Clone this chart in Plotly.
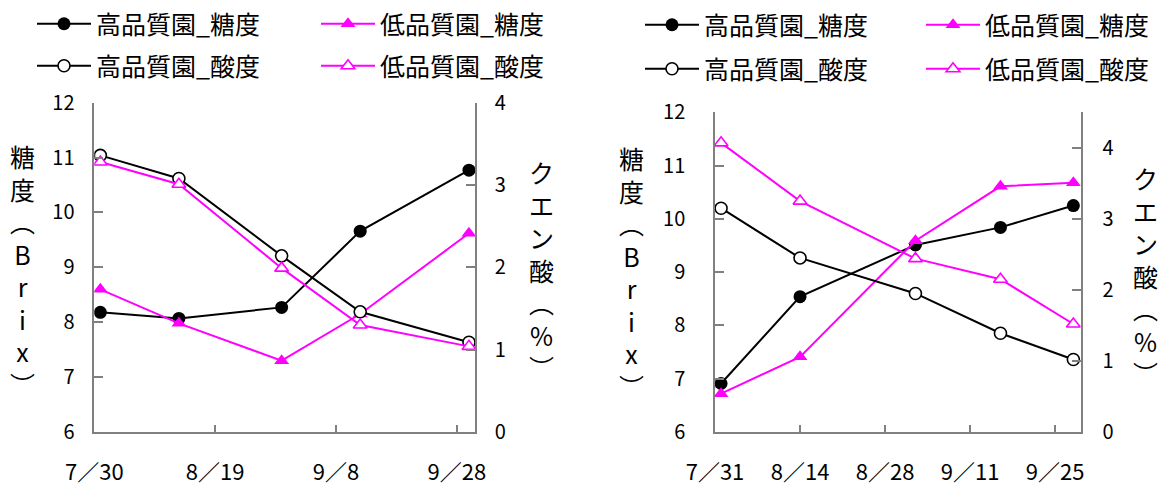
import plotly.graph_objects as go

# ---------------- data ----------------
left_dates = ["2023-07-31", "2023-08-13", "2023-08-30", "2023-09-12", "2023-09-30"]
left_high_sugar = [8.18, 8.07, 8.27, 9.66, 10.77]
left_low_sugar = [8.60, 7.98, 7.30, 8.15, 9.62]
left_high_acid = [3.36, 3.08, 2.14, 1.46, 1.09]
left_low_acid = [3.28, 3.01, 1.99, 1.30, 1.04]
left_tick_dates = ["2023-07-30", "2023-08-19", "2023-09-08", "2023-09-28"]
left_tick_labels = ["7／30", "8／19", "9／8", "9／28"]

right_dates = ["2023-08-01", "2023-08-14", "2023-09-02", "2023-09-16", "2023-09-28"]
right_high_sugar = [6.91, 8.54, 9.51, 9.84, 10.25]
right_low_sugar = [6.72, 7.41, 9.59, 10.61, 10.68]
right_high_acid = [3.15, 2.45, 1.95, 1.39, 1.02]
right_low_acid = [4.07, 3.25, 2.44, 2.15, 1.52]
right_tick_dates = ["2023-07-31", "2023-08-14", "2023-08-28", "2023-09-11", "2023-09-25"]
right_tick_labels = ["7／31", "8／14", "8／28", "9／11", "9／25"]

series_names = ["高品質園_糖度", "低品質園_糖度", "高品質園_酸度", "低品質園_酸度"]
sugar_ticks = [6, 7, 8, 9, 10, 11, 12]
acid_ticks = [0, 1, 2, 3, 4]

# ---------------- style ----------------
W, H = 1164, 486
FONT = "Noto Sans CJK JP"
BLACK = "#000000"
MAG = "#FF00FF"
AX = "#808080"

fig = go.Figure()

def add_chart(dates, hs, ls, ha, la, xa, ys, ya, legs):
    specs = [
        (hs, ys, BLACK, dict(symbol="circle", size=13, color=BLACK, line=dict(width=0))),
        (ls, ys, MAG, dict(symbol="triangle-up", size=13, color=MAG, line=dict(width=0))),
        (ha, ya, BLACK, dict(symbol="circle", size=12, color="white", line=dict(width=1.6, color=BLACK))),
        (la, ya, MAG, dict(symbol="triangle-up", size=12, color="white", line=dict(width=1.6, color=MAG))),
    ]
    for (vals, yax, col, mk), name, lg in zip(specs, series_names, legs):
        fig.add_trace(go.Scatter(
            x=dates, y=vals, name=name, mode="lines+markers",
            line=dict(color=col, width=2), marker=mk,
            xaxis=xa, yaxis=yax, legend=lg, showlegend=True,
        ))

add_chart(left_dates, left_high_sugar, left_low_sugar, left_high_acid, left_low_acid,
          "x", "y", "y2", ["legend", "legend2", "legend3", "legend4"])
add_chart(right_dates, right_high_sugar, right_low_sugar, right_high_acid, right_low_acid,
          "x2", "y3", "y4", ["legend5", "legend6", "legend7", "legend8"])

def px_x(v):
    return v / W

def px_y(v):
    return 1 - v / H

base_axis = dict(showline=True, linecolor=AX, linewidth=1.5, ticks="inside",
                 tickcolor=AX, tickwidth=1.5, showgrid=False, zeroline=False,
                 tickfont=dict(family=FONT, size=20, color=BLACK), fixedrange=True,
                 automargin=False)

xl = dict(base_axis, domain=[px_x(94.3), px_x(475)], anchor="y",
          range=["2023-07-30", "2023-10-01"], tickmode="array",
          tickvals=left_tick_dates, ticktext=left_tick_labels, ticklen=7,
          tickfont=dict(family=FONT, size=22, color=BLACK), ticklabelstandoff=20)
xr = dict(base_axis, domain=[px_x(715), px_x(1080.7)], anchor="y3",
          range=["2023-07-31", "2023-09-29 05:00"], tickmode="array",
          tickvals=right_tick_dates, ticktext=right_tick_labels, ticklen=7,
          tickfont=dict(family=FONT, size=22, color=BLACK), ticklabelstandoff=20)

yl = dict(base_axis, domain=[px_y(432), px_y(102.7)], anchor="x", range=[6, 12],
          tickmode="array", tickvals=sugar_ticks, ticklen=9, ticklabelstandoff=14)
yl2 = dict(base_axis, overlaying="y", side="right", anchor="x", range=[0, 4],
           tickmode="array", tickvals=acid_ticks, ticklen=9, ticklabelstandoff=14)
yr = dict(base_axis, domain=[px_y(432), px_y(112.3)], anchor="x2", range=[6, 12],
          tickmode="array", tickvals=sugar_ticks, ticklen=9, ticklabelstandoff=24)
yr2 = dict(base_axis, overlaying="y3", side="right", anchor="x2", range=[0, 4.5],
           tickmode="array", tickvals=acid_ticks, ticklen=9, ticklabelstandoff=16)

leg_font = dict(family=FONT, size=25, color=BLACK)
def leg(xp, yp):
    return dict(x=px_x(xp), y=px_y(yp), xanchor="left", yanchor="middle",
                font=leg_font, itemwidth=54, bgcolor="rgba(0,0,0,0)", borderwidth=0)

layout = dict(
    width=W, height=H, margin=dict(l=0, r=0, t=0, b=0, pad=0, autoexpand=False),
    paper_bgcolor="white", plot_bgcolor="white",
    xaxis=xl, xaxis2=xr, yaxis=yl, yaxis2=yl2, yaxis3=yr, yaxis4=yr2,
    legend=leg(32, 24), legend2=leg(316, 24), legend3=leg(32, 66), legend4=leg(316, 66),
    legend5=leg(640, 25), legend6=leg(921, 25), legend7=leg(640, 69), legend8=leg(921, 69),
    font=dict(family=FONT, color=BLACK),
)
fig.update_layout(**layout)

title_font = dict(family=FONT, size=25, color=BLACK)
sugar_title = "<br>".join(list("糖度︵Brix︶"))
acid_title = "<br>".join(list("クエン酸︵%︶"))
for txt, xp, yp in [(sugar_title, 22, 270), (acid_title, 541, 269),
                    (sugar_title, 631, 272), (acid_title, 1145, 275)]:
    fig.add_annotation(text=txt, x=px_x(xp), y=px_y(yp), xref="paper", yref="paper",
                       xanchor="center", yanchor="middle", showarrow=False,
                       font=title_font, align="center")

fig.write_html("out.html")
